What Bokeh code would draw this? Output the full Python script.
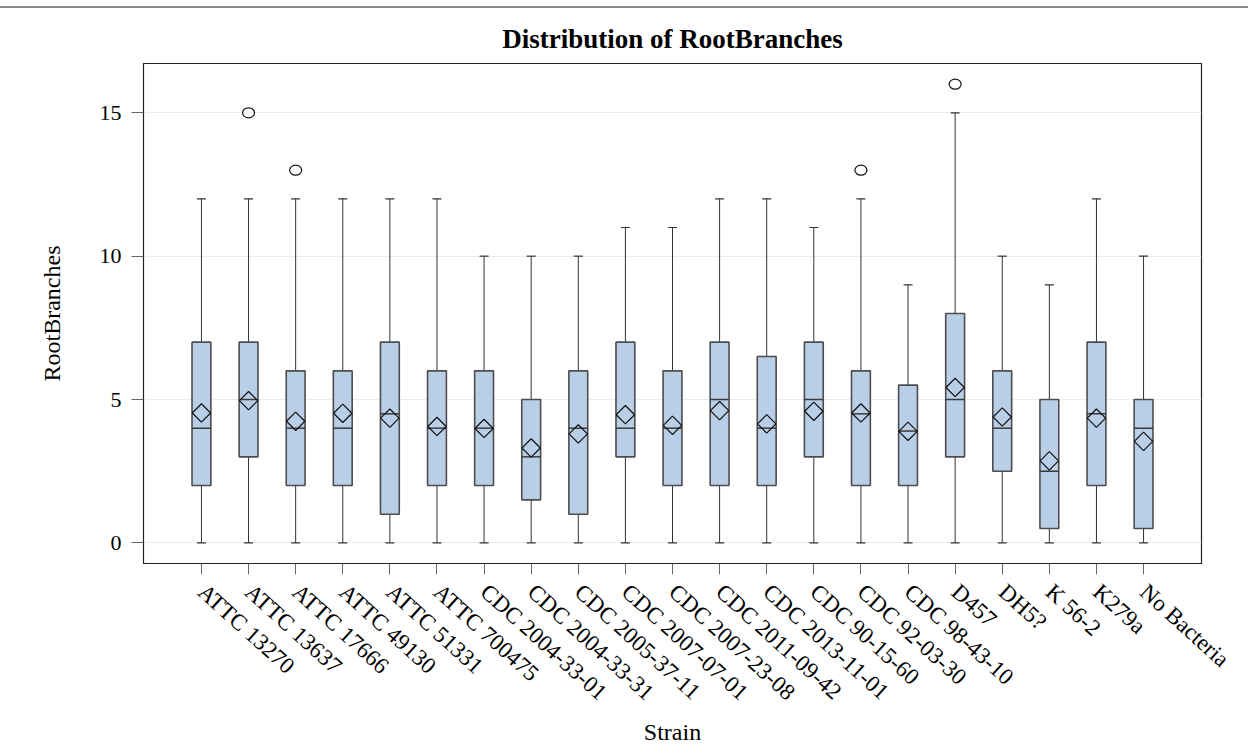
import math
from bokeh.plotting import figure
from bokeh.layouts import column
from bokeh.models import FactorRange, Range1d, FixedTicker, ColumnDataSource, Div
from bokeh.embed import file_html
from bokeh.resources import INLINE

strains = ["ATTC 13270", "ATTC 13637", "ATTC 17666", "ATTC 49130", "ATTC 51331", "ATTC 700475",
           "CDC 2004-33-01", "CDC 2004-33-31", "CDC 2005-37-11", "CDC 2007-07-01", "CDC 2007-23-08",
           "CDC 2011-09-42", "CDC 2013-11-01", "CDC 90-15-60", "CDC 92-03-30", "CDC 98-43-10",
           "D457", "DH5?", "K 56-2", "K279a", "No Bacteria"]
q1 = [2, 3, 2, 2, 1, 2, 2, 1.5, 1, 3, 2, 2, 2, 3, 2, 2, 3, 2.5, 0.5, 2, 0.5]
median = [4, 5, 4, 4, 4.5, 4, 4, 3, 4, 4, 4, 5, 4, 5, 4.5, 3.9, 5, 4, 2.5, 4.5, 4]
q3 = [7, 7, 6, 6, 7, 6, 6, 5, 6, 7, 6, 7, 6.5, 7, 6, 5.5, 8, 6, 5, 7, 5]
whisker_low = [0] * 21
whisker_high = [12, 12, 12, 12, 12, 12, 10, 10, 10, 11, 11, 12, 12, 11, 12, 9, 15, 10, 9, 12, 10]
mean = [4.53, 4.96, 4.24, 4.52, 4.35, 4.06, 3.99, 3.31, 3.80, 4.47, 4.10, 4.61, 4.15, 4.59, 4.53,
        3.89, 5.42, 4.39, 2.86, 4.35, 3.54]
outlier_strain = ["ATTC 13637", "ATTC 17666", "CDC 92-03-30", "D457"]
outlier_value = [15, 13, 13, 16]
y_ticks = [0, 5, 10, 15]

SERIF = "Liberation Serif"

p = figure(width=1240, height=740, output_backend="svg", toolbar_location=None,
           x_range=FactorRange(factors=strains, range_padding=0.73, range_padding_units="absolute"),
           y_range=Range1d(-0.72, 16.72),
           title="Distribution of RootBranches",
           min_border_left=143, min_border_right=39, min_border_top=55, min_border_bottom=184)

src = ColumnDataSource(dict(strain=strains, q1=q1, med=median, q3=q3, lo=whisker_low,
                            hi=whisker_high, mean=mean))

# whiskers
p.segment(x0="strain", y0="lo", x1="strain", y1="q1", source=src, line_color="#333333", line_width=1)
p.segment(x0="strain", y0="q3", x1="strain", y1="hi", source=src, line_color="#333333", line_width=1)
p.scatter(x="strain", y="lo", source=src, marker="dash", size=9, line_color="#333333", line_width=1.2)
p.scatter(x="strain", y="hi", source=src, marker="dash", size=9, line_color="#333333", line_width=1.2)

# boxes
p.vbar(x="strain", width=0.4, bottom="q1", top="q3", source=src,
       fill_color="#B9CFE7", line_color="#4d4d4d", line_width=1.6)
# median
p.scatter(x="strain", y="med", source=src, marker="dash", size=19, line_color="#3a3a3a", line_width=1.5)
# mean diamonds
p.scatter(x="strain", y="mean", source=src, marker="square", angle=math.pi / 4, size=13,
          fill_alpha=0, line_color="#111111", line_width=1.2)
# outliers
p.ellipse(x=outlier_strain, y=outlier_value, width=12, height=10, width_units="screen",
          height_units="screen", fill_alpha=0, line_color="#111111", line_width=1.2)

p.title.text_font = SERIF
p.title.text_font_style = "bold"
p.title.text_font_size = "27px"
p.title.align = "center"
p.title.text_color = "black"
p.title.standoff = 19

p.xgrid.grid_line_color = None
p.ygrid.grid_line_color = "#ebebeb"
p.yaxis.ticker = FixedTicker(ticks=y_ticks)
p.outline_line_color = "#222222"
p.outline_line_width = 1.2

for ax in (p.xaxis[0], p.yaxis[0]):
    ax.axis_line_color = "#222222"
    ax.major_tick_line_color = "#666666"
    ax.major_tick_out = 12
    ax.major_tick_in = 0
    ax.minor_tick_line_color = None
    ax.major_label_text_font = SERIF
    ax.axis_label_text_font = SERIF
    ax.axis_label_text_font_style = "normal"
    ax.axis_label_text_font_size = "24px"
    ax.major_label_text_color = "black"
    ax.axis_label_text_color = "black"

p.xaxis.axis_label = "Strain"
p.yaxis.axis_label = "RootBranches"
p.xaxis.major_label_orientation = -math.radians(42)
p.xaxis.major_label_text_font_size = "23px"
p.xaxis.major_label_standoff = 14
p.xaxis.axis_label_standoff = 2
p.xaxis.major_tick_out = 11
p.yaxis.major_label_text_font_size = "22px"
p.yaxis.major_label_standoff = 10
p.yaxis.axis_label_standoff = 32

rule = Div(text="", width=1248, height=8, margin=(0, 0, 0, 0),
           styles={"border-bottom": "2px solid #8c8c8c"})
layout = column(rule, p, spacing=0)

open("out.html", "w").write(file_html(layout, INLINE))
